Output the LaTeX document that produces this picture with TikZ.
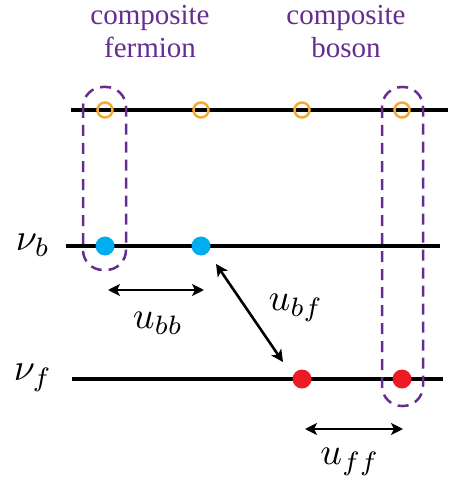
\documentclass[tikz,border=0pt]{standalone}
\usepackage{fontspec}
\setmainfont{Liberation Serif}
\usetikzlibrary{arrows.meta}
\definecolor{cpurple}{RGB}{102,45,145}
\definecolor{corange}{RGB}{247,168,50}
\definecolor{cblue}{RGB}{0,174,239}
\definecolor{cred}{RGB}{237,28,36}
\newcommand{\scaledmath}[1]{\scalebox{3.8}{$#1$}}
\begin{document}
\begin{tikzpicture}[x=1pt,y=-1pt,
  chain/.style={line width=3.1pt,black},
  hole/.style={circle,draw=corange,line width=2.5pt,minimum size=15pt,inner sep=0pt,fill=none},
  bdot/.style={circle,fill=cblue,minimum size=19pt,inner sep=0pt},
  fdot/.style={circle,fill=cred,minimum size=19pt,inner sep=0pt},
  group/.style={draw=cpurple,line width=2.5pt,dash pattern=on 11pt off 7pt,rounded corners=20pt},
  lbl/.style={font=\fontsize{29}{33}\selectfont,text=cpurple,align=center},
  mlabel/.style={font=\fontsize{10}{12}\selectfont,inner sep=0pt},
  darrow/.style={line width=2.6pt,{Stealth[length=12pt,width=12pt,inset=3pt]}-{Stealth[length=12pt,width=12pt,inset=3pt]}}
]
\useasboundingbox (0,0) rectangle (448,489);
% chains
\coordinate (t0) at (71,110); \coordinate (t1) at (448,110);
\coordinate (b0) at (66,246); \coordinate (b1) at (440,246);
\coordinate (f0) at (72,379); \coordinate (f1) at (443,379);
\draw[chain] (t0) -- (t1);
\draw[chain] (b0) -- (b1);
\draw[chain] (f0) -- (f1);
% groups
\draw[group] (83,87) rectangle (126,270);
\draw[group] (382,87) rectangle (423,406);
% sites
\node[hole] (h1) at (105,110) {};
\node[hole] (h2) at (201,110) {};
\node[hole] (h3) at (302,110) {};
\node[hole] (h4) at (402,110) {};
\node[bdot] (bb1) at (105,246) {};
\node[bdot] (bb2) at (201,246) {};
\node[fdot] (ff1) at (302,379) {};
\node[fdot] (ff2) at (402,379) {};
% labels
\node[lbl] (cf) at (150,32) {composite\\fermion};
\node[lbl] (cb) at (346,32) {composite\\boson};
\node[mlabel] (nub) at (33,245) {\scaledmath{\nu_b}};
\node[mlabel] (nuf) at (33,378) {\scaledmath{\nu_f}};
% interactions
\coordinate (ubb0) at (108,290); \coordinate (ubb1) at (204,290);
\draw[darrow] (ubb0) -- (ubb1);
\node[mlabel] (lubb) at (158,323) {\scaledmath{u_{bb}}};
\coordinate (ubf0) at (216,264); \coordinate (ubf1) at (283,362);
\draw[darrow] (ubf0) -- (ubf1);
\node[mlabel] (lubf) at (296,308) {\scaledmath{u_{bf}}};
\coordinate (uff0) at (305,429); \coordinate (uff1) at (403,429);
\draw[darrow] (uff0) -- (uff1);
\node[mlabel] (luff) at (350,462) {\scaledmath{u_{ff}}};
\end{tikzpicture}
\end{document}
